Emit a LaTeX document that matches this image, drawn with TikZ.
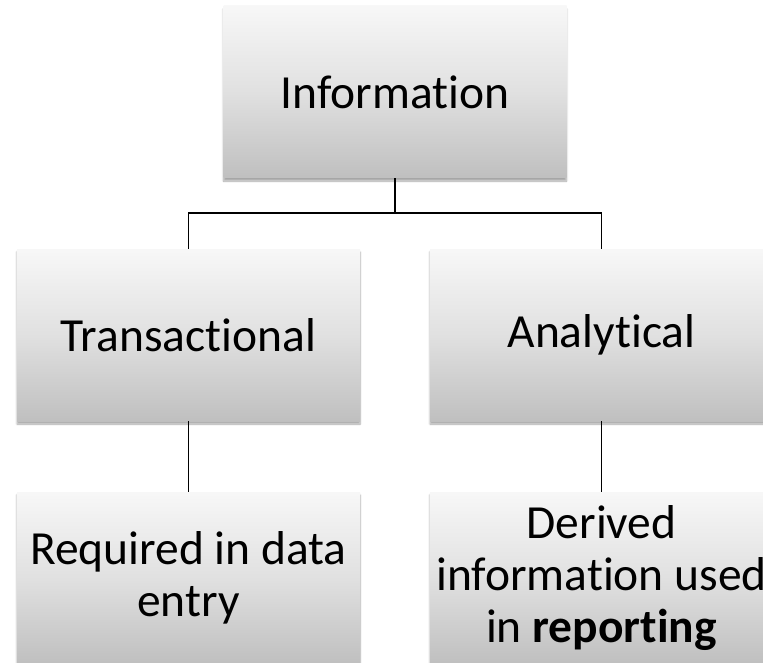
\documentclass[tikz,border=0pt]{standalone}
\usepackage{fontspec}
\setmainfont{Carlito}[Ligatures=CommonOff]
\usetikzlibrary{shadows.blur}
\tikzset{
  box/.style={rectangle, inner sep=0pt, minimum width=343pt, minimum height=172pt,
    top color=black!3, bottom color=black!25, middle color=black!12,
    blur shadow={shadow xshift=0pt, shadow yshift=-3pt, shadow blur steps=6, shadow opacity=35},
    align=center, font=\fontsize{47.5}{52}\selectfont},
  conn/.style={draw=black, line width=1.4pt}
}
\begin{document}
\begin{tikzpicture}[x=1pt,y=-1pt]
\useasboundingbox (0,0) rectangle (763,663);
\node[box] (info) at (395,92) {Information};
\node[box] (trans) at (188.5,335) {Transactional};
\node[box] (anal) at (601.5,335) {Analytical};
\node[box] (req) at (188.5,578) {Required in data\\entry};
\node[box] (der) at (601.5,578) {Derived\\information used\\in \textbf{reporting}};
\coordinate (j) at (395,213);
\draw[conn] (info.south) -- (j);
\draw[conn] (trans.north) |- (j) -| (anal.north);
\draw[conn] (trans.south) -- (req.north);
\draw[conn] (anal.south) -- (der.north);
\end{tikzpicture}
\end{document}
